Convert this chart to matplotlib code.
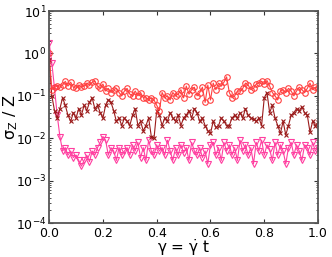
import numpy as np
import matplotlib
matplotlib.use("Agg")
import matplotlib.pyplot as plt
from matplotlib.ticker import LogLocator, NullFormatter, MultipleLocator

plt.rcParams['mathtext.default'] = 'regular'

# values, one point every 0.01 in gamma
red = [1.0, 0.14, 0.16, 0.17, 0.16, 0.18, 0.22, 0.17, 0.21, 0.16,
       0.15, 0.18, 0.16, 0.17, 0.2, 0.18, 0.21, 0.22, 0.17, 0.15,
       0.19, 0.13, 0.15, 0.12, 0.14, 0.15, 0.12, 0.1, 0.13, 0.15,
       0.11, 0.1, 0.13, 0.1, 0.12, 0.09, 0.09, 0.08, 0.09, 0.08,
       0.06, 0.045, 0.12, 0.09, 0.1, 0.08, 0.12, 0.1, 0.11, 0.14,
       0.09, 0.17, 0.11, 0.14, 0.16, 0.1, 0.12, 0.16, 0.07, 0.18,
       0.08, 0.2, 0.14, 0.2, 0.17, 0.21, 0.28, 0.12, 0.09, 0.1,
       0.13, 0.13, 0.15, 0.2, 0.18, 0.14, 0.15, 0.19, 0.2, 0.22,
       0.19, 0.23, 0.17, 0.12, 0.1, 0.08, 0.13, 0.14, 0.12, 0.15,
       0.13, 0.1, 0.13, 0.16, 0.14, 0.12, 0.15, 0.2, 0.14, 0.16,
       0.15]
dark = [0.7, 0.1, 0.045, 0.03, 0.05, 0.09, 0.06, 0.035, 0.025, 0.04,
        0.03, 0.05, 0.035, 0.06, 0.045, 0.07, 0.09, 0.05, 0.06, 0.04,
        0.03, 0.06, 0.08, 0.07, 0.045, 0.025, 0.03, 0.02, 0.03, 0.025,
        0.02, 0.035, 0.05, 0.02, 0.025, 0.015, 0.02, 0.03, 0.011, 0.01,
        0.045, 0.035, 0.02, 0.03, 0.025, 0.04, 0.03, 0.025, 0.035, 0.02,
        0.03, 0.035, 0.045, 0.03, 0.05, 0.04, 0.025, 0.03, 0.02, 0.015,
        0.013, 0.025, 0.018, 0.02, 0.03, 0.025, 0.02, 0.02, 0.03, 0.035,
        0.03, 0.04, 0.03, 0.05, 0.035, 0.03, 0.028, 0.025, 0.03, 0.02,
        0.09, 0.12, 0.04, 0.06, 0.03, 0.02, 0.013, 0.025, 0.012, 0.02,
        0.035, 0.04, 0.05, 0.045, 0.055, 0.04, 0.035, 0.014, 0.025, 0.02,
        0.024]
pink = [1.8, 0.6, 0.15, 0.035, 0.011, 0.005, 0.006, 0.004, 0.005, 0.0035,
        0.004, 0.003, 0.0022, 0.003, 0.004, 0.0028, 0.005, 0.004, 0.006, 0.008,
        0.011, 0.009, 0.004, 0.006, 0.005, 0.003, 0.006, 0.004, 0.005, 0.006,
        0.004, 0.007, 0.005, 0.008, 0.0035, 0.006, 0.003, 0.009, 0.005, 0.004,
        0.007, 0.005, 0.006, 0.004, 0.009, 0.005, 0.003, 0.006, 0.004, 0.007,
        0.0045, 0.006, 0.003, 0.008, 0.005, 0.004, 0.006, 0.0035, 0.005, 0.0025,
        0.007, 0.008, 0.004, 0.006, 0.003, 0.008, 0.005, 0.007, 0.004, 0.006,
        0.003, 0.009, 0.005, 0.007, 0.004, 0.006, 0.0025, 0.008, 0.005, 0.009,
        0.004, 0.007, 0.0055, 0.003, 0.008, 0.004, 0.007, 0.005, 0.0025, 0.006,
        0.008, 0.004, 0.007, 0.005, 0.003, 0.007, 0.006, 0.004, 0.008, 0.005,
        0.006]

fig = plt.figure(figsize=(3.32, 2.57), dpi=100)
ax = fig.add_axes([0.148, 0.132, 0.81, 0.825])

ax.plot(np.linspace(0, 1, len(pink)), pink, '-v', color='#ff3fa0', lw=0.8, ms=4, mfc='none', mew=0.8)
ax.plot(np.linspace(0, 1, len(dark)), dark, '-x', color='#9b1b1b', lw=0.8, ms=3.2, mew=0.8)
ax.plot(np.linspace(0, 1, len(red)), red, '-o', color='#ff4040', lw=0.8, ms=4, mfc='none', mew=0.8)

ax.set_yscale('log')
ax.set_ylim(1e-4, 10)
ax.set_xlim(0, 1)
ax.xaxis.set_major_locator(MultipleLocator(0.2))
ax.xaxis.set_major_formatter(plt.FuncFormatter(lambda v, p: '%.1f' % v))
ax.yaxis.set_major_locator(LogLocator(base=10, numticks=10))
ax.yaxis.set_minor_locator(LogLocator(base=10, subs=np.arange(2, 10), numticks=10))
ax.yaxis.set_minor_formatter(NullFormatter())

ax.tick_params(which='both', direction='in', top=True, right=True, labelsize=9,
               colors='#333333', labelcolor='black', pad=2)
ax.tick_params(axis='x', pad=3)
ax.tick_params(which='major', length=3)
ax.tick_params(which='minor', length=1.5)
for s in ax.spines.values():
    s.set_color('#555555')
    s.set_linewidth(1.3)

ax.set_xlabel(r'$\gamma$ = $\dot{\gamma}$ t', fontsize=11)
ax.set_ylabel(r'$\sigma_Z$ / Z', fontsize=11.5)
ax.xaxis.set_label_coords(0.5, -0.068)
ax.yaxis.set_label_coords(-0.108, 0.5)

fig.savefig('out.png', dpi=100)
